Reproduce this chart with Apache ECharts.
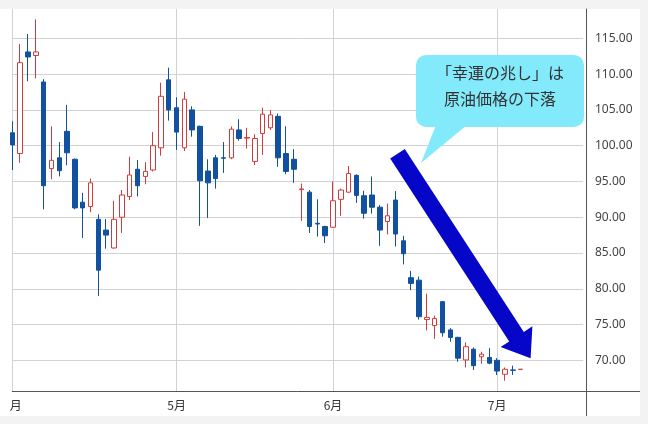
<!DOCTYPE html>
<html>
<head>
<meta charset="utf-8">
<script src="https://cdn.jsdelivr.net/npm/echarts@6/dist/echarts.min.js"></script>
<style>
  html, body { margin: 0; padding: 0; background: #f3f3f3; }
  #panel { position: absolute; left: 0; top: 9px; width: 640px; height: 407px; background: #fff; }
  #chart { position: absolute; left: 0; top: 0; width: 648px; height: 424px; }
</style>
</head>
<body>
<div id="panel"></div>
<div id="chart"></div>
<script>
// 取引日（最後の8日は空き）
const days = [
  '2026-04-01', '2026-04-02', '2026-04-06', '2026-04-07', '2026-04-08', '2026-04-09', '2026-04-10',
  '2026-04-13', '2026-04-14', '2026-04-15', '2026-04-16', '2026-04-17', '2026-04-20', '2026-04-21',
  '2026-04-22', '2026-04-23', '2026-04-24', '2026-04-27', '2026-04-28', '2026-04-29', '2026-04-30',
  '2026-05-01', '2026-05-04', '2026-05-05', '2026-05-06', '2026-05-07', '2026-05-08', '2026-05-11',
  '2026-05-12', '2026-05-13', '2026-05-14', '2026-05-15', '2026-05-18', '2026-05-19', '2026-05-20',
  '2026-05-21', '2026-05-22', '2026-05-26', '2026-05-27', '2026-05-28', '2026-05-29',
  '2026-06-01', '2026-06-02', '2026-06-03', '2026-06-04', '2026-06-05', '2026-06-08', '2026-06-09',
  '2026-06-10', '2026-06-11', '2026-06-12', '2026-06-15', '2026-06-16', '2026-06-17', '2026-06-18',
  '2026-06-22', '2026-06-23', '2026-06-24', '2026-06-25', '2026-06-26', '2026-06-29', '2026-06-30',
  '2026-07-01', '2026-07-02', '2026-07-06', '2026-07-07',
  '2026-07-08', '2026-07-09', '2026-07-10', '2026-07-13', '2026-07-14', '2026-07-15', '2026-07-16', '2026-07-17'
]

const opens = [
  101.8, 98.9, 113.1, 112.6, 108.9, 96.8, 98.3, 102.0, 98.1, 92.1, 91.5, 89.7, 88.2, 85.7, 90.0, 92.9,
  96.7, 95.7, 96.6, 99.7, 109.2, 105.3, 99.7, 105.0, 102.7, 96.45, 98.3, 98.3, 98.3, 102.2, 101.05, 97.8,
  101.7, 102.5, 104.1, 98.9, 98.1, 93.85, 93.5, 89.15, 88.7, 88.6, 92.5, 93.5, 95.85, 93.0, 93.1, 91.4,
  89.4, 92.4, 86.7, 81.55, 81.2, 75.7, 74.85, 78.2, 74.25, 73.2, 70.05, 71.55, 70.5, 70.4, 70.0, 68.05,
  68.65, 68.74
]
const closes = [
  100.1, 111.6, 112.4, 113.1, 94.4, 97.95, 96.5, 99.0, 91.3, 91.3, 94.8, 82.6, 87.5, 89.7, 93.1, 95.9,
  94.4, 96.4, 100.0, 106.9, 105.0, 101.9, 106.5, 102.2, 95.1, 94.8, 95.4, 98.25, 102.3, 101.0, 101.15, 101.0,
  104.4, 104.3, 98.3, 96.4, 96.7, 93.95, 88.7, 89.05, 87.4, 92.3, 93.8, 96.1, 93.05, 90.55, 91.4, 88.2,
  90.2, 87.65, 84.9, 80.75, 76.1, 76.0, 75.85, 73.85, 73.2, 70.3, 71.9, 69.25, 70.85, 69.6, 68.5, 68.75,
  68.6, 68.74
]
const lows = [
  96.6, 97.6, 109.0, 109.4, 91.1, 95.3, 95.7, 97.25, 91.1, 87.1, 90.7, 79.0, 85.6, 85.6, 87.8, 92.4,
  92.9, 94.6, 96.4, 98.6, 103.5, 99.4, 99.25, 101.25, 88.8, 89.9, 94.0, 96.2, 98.1, 100.7, 99.6, 97.3,
  98.7, 102.2, 97.05, 96.0, 94.8, 89.5, 87.8, 87.3, 86.4, 88.5, 90.2, 93.4, 92.0, 89.8, 90.5, 86.0,
  87.6, 85.9, 83.4, 79.8, 75.7, 74.2, 73.0, 73.3, 72.6, 69.8, 69.0, 68.65, 69.5, 69.45, 67.95, 67.15,
  67.95, 68.74
]
const highs = [
  103.4, 114.2, 115.6, 117.65, 109.3, 102.7, 100.5, 105.7, 98.2, 93.4, 95.4, 90.4, 89.75, 92.3, 93.8, 98.45,
  98.0, 97.7, 101.9, 108.8, 110.9, 106.75, 107.5, 105.5, 102.8, 98.1, 98.7, 100.5, 102.7, 103.7, 102.5, 101.6,
  105.3, 105.0, 104.5, 102.7, 99.5, 94.7, 93.8, 92.5, 88.8, 95.0, 94.0, 97.15, 96.0, 93.7, 95.7, 91.7,
  91.9, 93.65, 87.4, 82.5, 81.7, 79.3, 76.25, 78.3, 74.5, 73.3, 72.5, 71.8, 71.2, 71.7, 70.3, 69.0,
  69.25, 68.74
]

const noteText = '「幸運の兆し」は\n原油価格の下落'

const RED = '#d23c3c'
const BLUE = '#11519f'
const GRID = '#d2d2d2'
const AXIS = '#555'

const candles = opens.map((o, i) => [o, closes[i], lows[i], highs[i]])
const monthStart = (i) => i === 0 || days[i].slice(5, 7) !== days[i - 1].slice(5, 7)

const chart = echarts.init(document.getElementById('chart'), null, { renderer: 'canvas' })

chart.setOption({
  animation: false,
  grid: { left: 9, right: 64.8, top: 9, bottom: 33 },
  xAxis: {
    type: 'category',
    data: days,
    boundaryGap: false,
    axisLine: { lineStyle: { color: AXIS } },
    axisTick: { show: false },
    axisLabel: {
      interval: (i) => monthStart(i),
      formatter: (v) => Number(v.slice(5, 7)) + '月',
      color: '#333',
      fontSize: 12,
      margin: 8,
      fontFamily: '"Noto Sans CJK JP"',
    },
    splitLine: { show: true, interval: (i) => monthStart(i), lineStyle: { color: GRID } },
  },
  yAxis: {
    type: 'value',
    position: 'right',
    min: 65.71,
    max: 119.1,
    splitNumber: 10,
    offset: 2.8,
    axisLine: { show: true, lineStyle: { color: AXIS } },
    axisTick: { show: false },
    axisLabel: {
      showMinLabel: false,
      showMaxLabel: false,
      formatter: (v) => v.toFixed(2),
      color: '#444',
      fontSize: 12,
      margin: 9,
      fontFamily: '"Noto Sans"',
    },
    splitLine: { showMinLine: false, showMaxLine: false, lineStyle: { color: GRID } },
  },
  series: [
    {
      type: 'candlestick',
      data: candles,
      barWidth: 5,
      clip: false,
      itemStyle: {
        color: '#ffffff',
        color0: BLUE,
        borderColor: RED,
        borderColor0: BLUE,
        borderWidth: 1,
      },
    },
  ],
  graphic: [
    // 軸の延長線
    { type: 'line', z: 50, shape: { x1: 586.5, y1: 391, x2: 586.5, y2: 416 }, style: { stroke: AXIS, lineWidth: 1 } },
    { type: 'line', z: 50, shape: { x1: 583, y1: 391.5, x2: 640, y2: 391.5 }, style: { stroke: AXIS, lineWidth: 1 } },
    // 左端で切れたラベル
    { type: 'rect', z: 60, shape: { x: 0, y: 393, width: 10, height: 22 }, style: { fill: '#fff' } },
    // 吹き出し
    { type: 'polygon', z: 100, shape: { points: [[438, 120], [473, 120], [421, 163]] }, style: { fill: '#82eafa' } },
    { type: 'rect', z: 100, shape: { x: 416, y: 55, width: 168, height: 72, r: 10 }, style: { fill: '#82eafa' } },
    {
      type: 'text', z: 101,
      style: {
        text: noteText, x: 500, y: 85.5, textAlign: 'center', textVerticalAlign: 'middle',
        font: '16px "Noto Sans CJK JP"', lineHeight: 26, fill: '#333',
      },
    },
    // 矢印
    {
      type: 'polygon', z: 100,
      shape: {
        points: [[404.8, 149.0], [523.8, 331.9], [532.4, 326.3], [530.6, 358.3], [500.6, 347.1], [509.2, 341.5], [390.2, 158.6]],
      },
      style: { fill: '#0606c8' },
    },
  ],
})
</script>
</body>
</html>
